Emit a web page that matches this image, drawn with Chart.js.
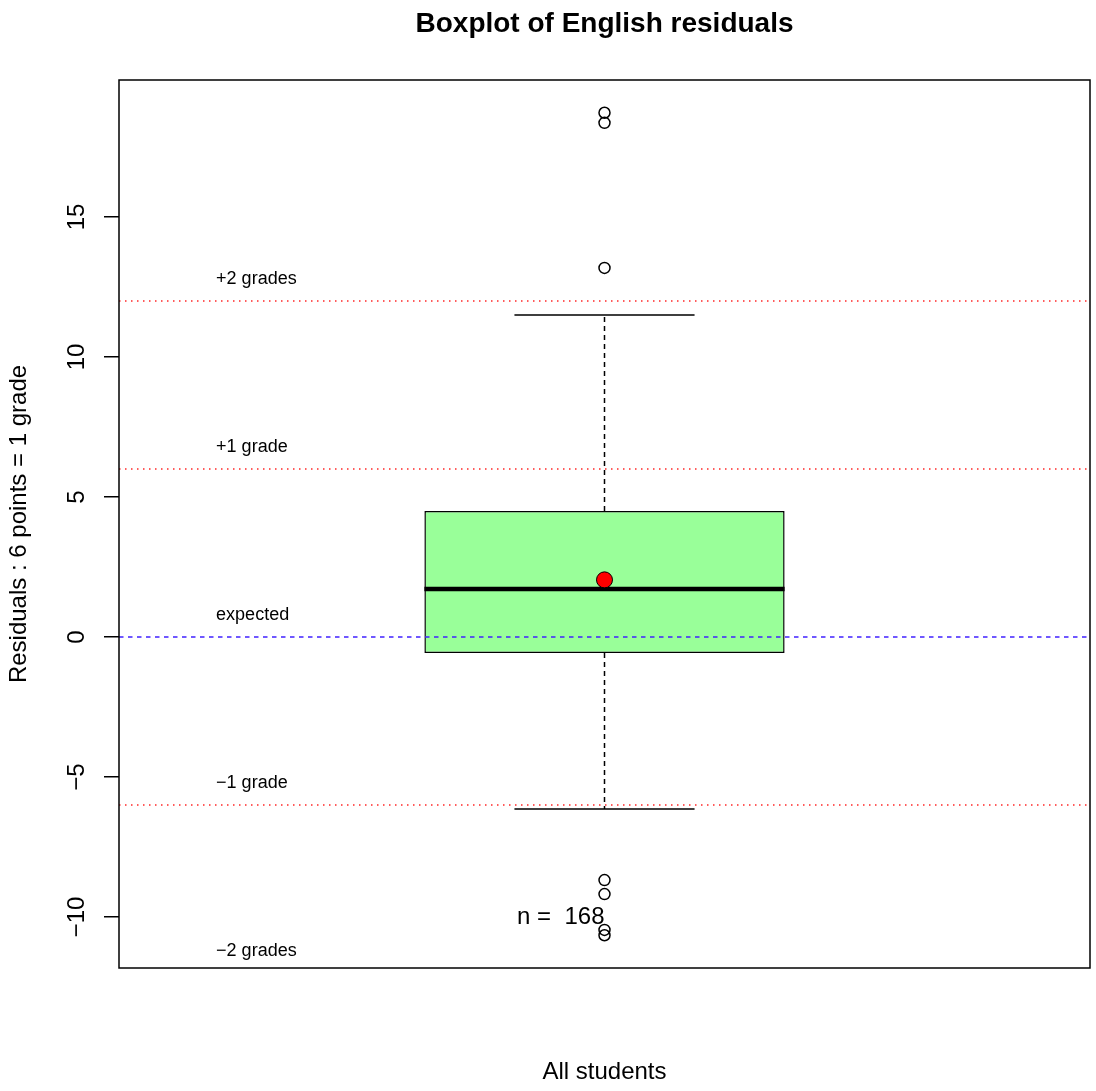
<!DOCTYPE html>
<html>
<head>
<meta charset="utf-8">
<title>Boxplot of English residuals</title>
<script src="https://cdn.jsdelivr.net/npm/chart.js@4"></script>
<style>
  html, body { margin: 0; padding: 0; background: #fff; }
  #wrap { width: 1096px; height: 1091px; }
</style>
</head>
<body>
<div id="wrap"><canvas id="myChart" width="1096" height="1091"></canvas></div>
<script>
// data
var groups = ["All students"];
var boxRange = [-0.57, 4.5];      // Q1, Q3
var medians = [1.71];
var means = [2.04];
var whiskers = [-6.14, 11.5];      // lower, upper
var outliers = [18.72, 18.36, 13.18, -8.68, -9.18, -10.46, -10.65];
var nCount = 168;
var gradeLines = [12, 6, 0, -6, -12];
var gradeLabels = ["+2 grades", "+1 grade", "expected", "\u22121 grade", "\u22122 grades"];
var yTicks = [-10, -5, 0, 5, 10, 15];

Chart.defaults.font.family = "'Liberation Sans', Arial, sans-serif";
Chart.defaults.color = '#000';

var boxExtras = {
    id: 'boxExtras',
    afterDatasetDraw: function(chart, args) {
        if (args.index !== 0) return;
        var ctx = chart.ctx;
        var y = chart.scales.y;
        var area = chart.chartArea;
        var bar = args.meta.data[0];
        var cx = bar.x, half = bar.width / 2;
        ctx.save();
        // whiskers (dashed) and caps
        ctx.strokeStyle = '#000';
        ctx.lineWidth = 1.5;
        ctx.setLineDash([5, 4]);
        ctx.beginPath();
        ctx.moveTo(cx, y.getPixelForValue(boxRange[1]));
        ctx.lineTo(cx, y.getPixelForValue(whiskers[1]));
        ctx.moveTo(cx, y.getPixelForValue(boxRange[0]));
        ctx.lineTo(cx, y.getPixelForValue(whiskers[0]));
        ctx.stroke();
        ctx.setLineDash([]);
        ctx.beginPath();
        whiskers.forEach(function(w) {
            var py = y.getPixelForValue(w);
            ctx.moveTo(cx - half / 2, py);
            ctx.lineTo(cx + half / 2, py);
        });
        ctx.stroke();
        // median
        var my = y.getPixelForValue(medians[0]);
        ctx.lineWidth = 4.5;
        ctx.beginPath();
        ctx.moveTo(cx - half, my);
        ctx.lineTo(cx + half, my);
        ctx.stroke();
        // grade reference lines
        ctx.beginPath();
        ctx.rect(area.left, area.top, area.right - area.left, area.bottom - area.top);
        ctx.clip();
        gradeLines.forEach(function(v) {
            var py = y.getPixelForValue(v);
            ctx.beginPath();
            if (v === 0) {
                ctx.strokeStyle = '#4020ff';
                ctx.lineWidth = 1.3;
                ctx.setLineDash([4.5, 4.5]);
            } else {
                ctx.strokeStyle = 'rgba(255,0,0,0.85)';
                ctx.lineWidth = 1.5;
                ctx.setLineDash([1.5, 4.5]);
            }
            ctx.moveTo(area.left, py);
            ctx.lineTo(area.right, py);
            ctx.stroke();
        });
        ctx.restore();
    },
    afterDraw: function(chart) {
        var ctx = chart.ctx;
        var x = chart.scales.x, y = chart.scales.y;
        var area = chart.chartArea;
        ctx.save();
        // plot frame
        ctx.strokeStyle = '#000';
        ctx.lineWidth = 1.5;
        ctx.strokeRect(area.left, area.top, area.right - area.left, area.bottom - area.top);
        // main title
        ctx.fillStyle = '#000';
        ctx.font = "bold 28px 'Liberation Sans', Arial, sans-serif";
        ctx.textAlign = 'center';
        ctx.textBaseline = 'middle';
        ctx.fillText('Boxplot of English residuals', (area.left + area.right) / 2, 24);
        // grade labels
        ctx.font = "18px 'Liberation Sans', Arial, sans-serif";
        ctx.textAlign = 'left';
        var lx = x.getPixelForValue(-0.4);
        gradeLines.forEach(function(v, i) {
            var py = y.getPixelForValue(v + 0.8);
            if (py > area.bottom || py < area.top) return;
            ctx.fillText(gradeLabels[i], lx, py);
        });
        // count
        ctx.font = "24px 'Liberation Sans', Arial, sans-serif";
        ctx.textAlign = 'right';
        ctx.fillText('n =  ' + nCount, x.getPixelForValue(0), y.getPixelForValue(-10));
        ctx.restore();
    }
};

var ctx1 = document.getElementById("myChart");
var myChart1 = new Chart(ctx1, {
    type: 'bar',
    data: {
        labels: groups,
        datasets: [
            {
                label: 'box',
                data: [boxRange],
                backgroundColor: '#99ff99',
                borderColor: '#000',
                borderWidth: 1.5,
                borderSkipped: false,
                barPercentage: 0.371,
                categoryPercentage: 1,
                order: 2
            },
            {
                type: 'line',
                label: 'mean',
                data: means.map(function(v) { return {x: groups[0], y: v}; }),
                showLine: false,
                pointRadius: 8,
                pointBackgroundColor: '#ff0000',
                pointBorderColor: '#000',
                pointBorderWidth: 1,
                order: 0
            },
            {
                type: 'line',
                label: 'outliers',
                data: outliers.map(function(v) { return {x: groups[0], y: v}; }),
                showLine: false,
                pointRadius: 5.5,
                pointBackgroundColor: 'rgba(0,0,0,0)',
                pointBorderColor: '#000',
                pointBorderWidth: 1.5,
                order: 1
            }
        ]
    },
    options: {
        responsive: false,
        animation: false,
        devicePixelRatio: 1,
        layout: { autoPadding: false, padding: { top: 80, right: 6, left: 0, bottom: 0 } },
        plugins: {
            legend: { display: false },
            tooltip: { enabled: false },
            title: { display: false }
        },
        scales: {
            x: {
                grid: { display: false },
                border: { display: false },
                ticks: { display: false },
                title: {
                    display: true,
                    text: 'All students',
                    font: { size: 24 },
                    color: '#000',
                    padding: { top: 0, bottom: 4 }
                },
                afterFit: function(scale) {
                    scale.height = 123;
                    scale.paddingLeft = 0;
                    scale.paddingRight = 0;
                }
            },
            y: {
                min: -11.82,
                max: 19.89,
                afterBuildTicks: function(scale) {
                    scale.ticks = yTicks.map(function(v) { return {value: v}; });
                },
                ticks: {
                    font: { size: 24 },
                    color: '#000',
                    minRotation: 90,
                    maxRotation: 90,
                    crossAlign: 'center',
                    padding: 6,
                    callback: function(v) { return String(v).replace('-', '\u2212'); }
                },
                grid: {
                    drawOnChartArea: false,
                    drawTicks: true,
                    tickLength: 15,
                    color: '#000',
                    lineWidth: 1.5
                },
                border: { display: false },
                title: {
                    display: true,
                    text: 'Residuals : 6 points = 1 grade',
                    font: { size: 24 },
                    color: '#000',
                    padding: { top: 5, bottom: 0 }
                },
                afterFit: function(scale) {
                    scale.width = 119;
                    scale.paddingTop = 0;
                    scale.paddingBottom = 0;
                }
            }
        }
    },
    plugins: [boxExtras]
});
</script>
</body>
</html>
